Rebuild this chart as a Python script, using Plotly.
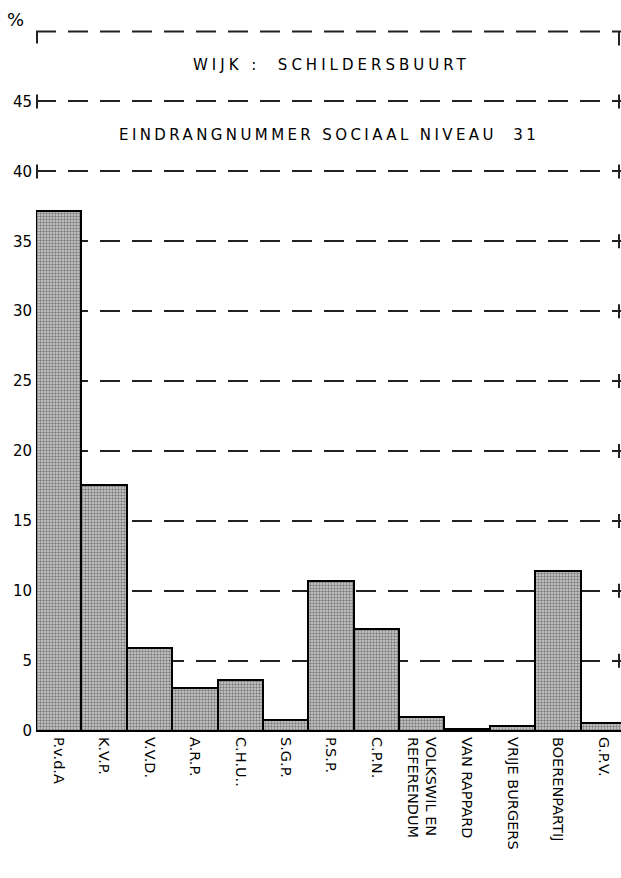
import plotly.graph_objects as go

parties = ["P.v.d.A", "K.V.P.", "V.V.D.", "A.R.P.", "C.H.U..", "S.G.P.", "P.S.P.",
           "C.P.N.", "VOLKSWIL EN<br>REFERENDUM", "VAN RAPPARD", "VRIJE BURGERS",
           "BOERENPARTIJ", "G.P.V."]
percent = [37.2, 17.6, 5.9, 3.05, 3.6, 0.75, 10.7, 7.3, 1.0, 0.1, 0.3, 11.4, 0.55]
y_ticks = [0, 5, 10, 15, 20, 25, 30, 35, 40, 45]
y_ticktext = ["0", "5", "10", "15", "20", "25", "30", "35", "40", "45"]
grid_levels = [5, 10, 15, 20, 25, 30, 35, 40, 45]
title1 = "WIJK :  SCHILDERSBUURT"
title2 = "EINDRANGNUMMER SOCIAAL NIVEAU  31"

FONT = "DejaVu Sans"

fig = go.Figure()
fig.add_trace(go.Bar(
    x=list(range(len(parties))), y=percent, width=1.0,
    marker=dict(color="#b0b0b0", line=dict(color="black", width=2),
                pattern=dict(shape=".", fgcolor="#2a2a2a", bgcolor="#d0d0d0",
                             size=3, solidity=0.5)),
    hoverinfo="skip",
))

shapes = []
shapes.append(dict(type="line", xref="paper", yref="y", x0=0, x1=1, y0=50, y1=50,
                   line=dict(color="#222", width=2, dash="20px,12px"), layer="below"))
shapes.append(dict(type="line", xref="paper", yref="y", xsizemode="pixel", xanchor=0,
                   x0=1, x1=1, ysizemode="pixel", yanchor=50, y0=0, y1=-12,
                   line=dict(color="#222", width=2)))
shapes.append(dict(type="line", xref="paper", yref="y", xsizemode="pixel", xanchor=1,
                   x0=-2, x1=-2, ysizemode="pixel", yanchor=50, y0=0, y1=-14,
                   line=dict(color="#222", width=2)))
for lv in grid_levels:
    shapes.append(dict(type="line", xref="paper", yref="y", xsizemode="pixel", xanchor=1,
                       x0=-2, x1=-2, ysizemode="pixel", yanchor=lv, y0=-7, y1=7,
                       line=dict(color="#222", width=2)))
for lv in [40, 45]:
    shapes.append(dict(type="line", xref="paper", yref="y", xsizemode="pixel", xanchor=0,
                       x0=1, x1=1, ysizemode="pixel", yanchor=lv, y0=-7, y1=7,
                       line=dict(color="#222", width=2)))

annotations = [
    dict(text="%", xref="paper", yref="y", x=0, y=50, xanchor="right", yanchor="bottom",
         xshift=-10, yshift=0, showarrow=False, font=dict(family=FONT, size=18, color="black")),
    dict(text='<span style="letter-spacing:4px">' + title1 + '</span>',
         xref="paper", yref="y", x=0.505, y=47.6, showarrow=False,
         font=dict(family=FONT, size=15, color="black")),
    dict(text='<span style="letter-spacing:3.4px">' + title2 + '</span>',
         xref="paper", yref="y", x=0.50, y=42.6, showarrow=False,
         font=dict(family=FONT, size=15, color="black")),
]

fig.update_layout(
    width=621, height=878,
    margin=dict(l=36, r=0, t=26, b=146),
    paper_bgcolor="white", plot_bgcolor="white",
    showlegend=False, bargap=0,
    shapes=shapes, annotations=annotations,
    font=dict(family=FONT, color="black"),
)
fig.update_xaxes(
    range=[-0.5, 12.39], tickmode="array", tickvals=list(range(len(parties))),
    ticktext=parties, tickangle=90, tickfont=dict(family=FONT, size=14.5, color="black"),
    showgrid=False, zeroline=False, showline=False, ticks="", ticklabelstandoff=4,
    automargin=False,
)
fig.update_yaxes(
    range=[-0.1, 50.4], tickmode="array", tickvals=y_ticks, ticktext=y_ticktext,
    tickfont=dict(family=FONT, size=15, color="black"),
    showgrid=True, gridcolor="#222", gridwidth=2, griddash="20px,12px",
    zeroline=False, showline=False, ticks="", ticklabelstandoff=3,
    automargin=False,
)

fig.write_html("out.html", config={"displayModeBar": False},
               post_script="document.body.style.margin='0';document.body.style.overflow='hidden';")
